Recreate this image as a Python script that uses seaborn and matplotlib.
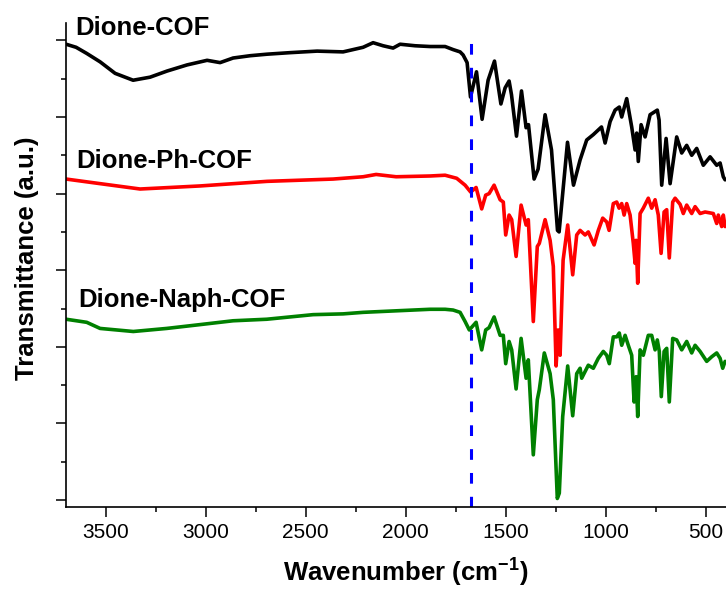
import numpy as np
import pandas as pd
import matplotlib
matplotlib.use("Agg")
import matplotlib.pyplot as plt
import seaborn as sns

# ---------------- data ----------------
series_names = ["Dione-COF", "Dione-Ph-COF", "Dione-Naph-COF"]
series_colors = ["#000000", "#FF0000", "#008000"]

cof_wn = [3698, 3648, 3595, 3528, 3453, 3363, 3278, 3193, 3093, 2993, 2928, 2863, 2778, 2693,
          2578, 2443, 2313, 2213, 2163, 2113, 2063, 2028, 1953, 1878, 1803, 1763, 1728, 1713,
          1693, 1676, 1646, 1618, 1588, 1556, 1524, 1503, 1483, 1471, 1446, 1421, 1398, 1386,
          1358, 1338, 1303, 1271, 1241, 1233, 1191, 1161, 1128, 1095, 1062, 1021, 1003, 978,
          953, 932, 920, 895, 870, 853, 845, 837, 823, 803, 778, 742, 733, 720, 698, 678, 645,
          620, 595, 570, 545, 512, 478, 445, 428, 412, 403]
cof_t = [5.95, 5.91, 5.83, 5.72, 5.57, 5.48, 5.52, 5.60, 5.68, 5.74, 5.71, 5.77, 5.80, 5.82,
         5.84, 5.86, 5.85, 5.91, 5.97, 5.93, 5.90, 5.95, 5.93, 5.92, 5.92, 5.88, 5.85, 5.81,
         5.71, 5.26, 5.59, 4.97, 5.48, 5.73, 5.17, 5.38, 5.47, 5.29, 4.75, 5.34, 4.86, 4.90,
         4.19, 4.32, 5.03, 4.57, 3.52, 3.50, 4.67, 4.11, 4.44, 4.70, 4.77, 4.87, 4.66, 4.94,
         5.09, 5.13, 5.00, 5.24, 4.87, 4.57, 4.79, 4.42, 4.90, 4.74, 5.03, 5.09, 4.96, 4.11,
         4.72, 4.13, 4.74, 4.53, 4.63, 4.50, 4.59, 4.37, 4.48, 4.37, 4.40, 4.22, 4.18]

ph_wn = [3698, 3528, 3328, 3028, 2693, 2363, 2213, 2148, 2048, 1878, 1803, 1745, 1703, 1675,
         1648, 1620, 1600, 1583, 1558, 1528, 1512, 1500, 1483, 1470, 1448, 1423, 1398, 1387,
         1362, 1342, 1332, 1303, 1278, 1262, 1248, 1238, 1228, 1213, 1190, 1165, 1145, 1128,
         1103, 1087, 1058, 1037, 1015, 995, 983, 962, 945, 933, 920, 908, 895, 878, 862, 853,
         848, 840, 828, 812, 787, 770, 753, 737, 723, 708, 695, 682, 665, 653, 628, 612, 595,
         570, 553, 528, 503, 462, 445, 437, 420, 412, 403]
ph_t = [4.19, 4.13, 4.06, 4.10, 4.16, 4.19, 4.22, 4.25, 4.22, 4.23, 4.24, 4.20, 4.11, 4.02,
        4.08, 3.80, 3.98, 4.00, 4.11, 3.92, 3.89, 3.46, 3.72, 3.66, 3.18, 3.85, 3.59, 3.66,
        2.33, 3.31, 3.35, 3.66, 3.39, 3.05, 1.75, 2.22, 1.89, 3.13, 3.59, 2.94, 3.46, 3.52,
        3.46, 3.50, 3.33, 3.52, 3.68, 3.63, 3.52, 3.87, 3.89, 3.81, 3.87, 3.72, 3.87, 3.72,
        3.35, 3.09, 3.39, 2.83, 3.74, 3.81, 3.94, 3.81, 3.92, 3.72, 3.22, 3.76, 3.79, 3.16,
        3.89, 3.94, 3.86, 3.74, 3.85, 3.74, 3.83, 3.74, 3.76, 3.74, 3.61, 3.72, 3.57, 3.72, 3.57]

naph_wn = [3698, 3595, 3528, 3362, 3195, 3028, 2863, 2695, 2463, 2313, 2213, 2047, 1878, 1803,
           1763, 1728, 1703, 1682, 1648, 1620, 1600, 1583, 1558, 1528, 1512, 1500, 1483, 1470,
           1448, 1423, 1398, 1387, 1362, 1342, 1332, 1307, 1278, 1262, 1242, 1232, 1215, 1190,
           1165, 1145, 1128, 1120, 1087, 1062, 1037, 1012, 995, 982, 962, 945, 932, 920, 903,
           887, 870, 858, 848, 840, 828, 812, 787, 770, 753, 742, 732, 722, 708, 695, 682, 665,
           645, 620, 595, 570, 553, 528, 495, 470, 445, 428, 415, 403]
naph_t = [2.36, 2.32, 2.24, 2.20, 2.24, 2.29, 2.34, 2.36, 2.42, 2.43, 2.45, 2.47, 2.49, 2.49,
          2.48, 2.45, 2.33, 2.22, 2.32, 1.96, 2.22, 2.25, 2.39, 2.15, 2.15, 1.78, 2.07, 1.96,
          1.45, 2.11, 1.59, 1.83, 0.59, 1.31, 1.44, 1.92, 1.65, 1.31, 0.02, 0.09, 1.09, 1.75,
          1.10, 1.65, 1.72, 1.59, 1.76, 1.72, 1.85, 1.94, 1.89, 1.78, 2.13, 2.13, 2.18, 2.02,
          2.15, 2.02, 1.89, 1.28, 1.61, 1.09, 1.96, 1.89, 2.15, 2.15, 1.96, 2.09, 1.94, 1.35,
          1.94, 1.98, 1.28, 2.11, 2.09, 1.96, 2.07, 1.92, 2.02, 1.94, 1.81, 1.87, 1.92, 1.85,
          1.72, 1.81]

ref_wavenumber = 1675
x_ticks = [3500, 3000, 2500, 2000, 1500, 1000, 500]
x_tick_labels = ["3500", "3000", "2500", "2000", "1500", "1000", "500"]
x_minor_ticks = [3250, 2750, 2250, 1750, 1250, 750]

# ---------------- build table ----------------
frames = []
for name, wn, t in zip(series_names, [cof_wn, ph_wn, naph_wn], [cof_t, ph_t, naph_t]):
    frames.append(pd.DataFrame({"wn": wn, "t": t, "sample": name}))
df = pd.concat(frames, ignore_index=True)

# ---------------- style ----------------
sns.set_theme(style="ticks")
plt.rcParams["font.family"] = ["Liberation Sans", "DejaVu Sans"]
plt.rcParams["mathtext.fontset"] = "custom"
plt.rcParams["mathtext.rm"] = "Liberation Sans:bold"
plt.rcParams["mathtext.bf"] = "Liberation Sans:bold"
plt.rcParams["mathtext.default"] = "bf"

W, H = 726, 592
fig = plt.figure(figsize=(W / 100, H / 100), dpi=100)
ax = fig.add_axes([65.7 / W, 1 - 507 / H, 660 / W, 484.3 / H])

sns.lineplot(data=df, x="wn", y="t", hue="sample", palette=dict(zip(series_names, series_colors)),
             hue_order=series_names, estimator=None, sort=False, linewidth=2.6,
             legend=False, ax=ax)
for line in ax.lines:
    line.set_solid_joinstyle("round")

ax.axvline(ref_wavenumber, ymin=0, ymax=0.961, color="#0000FF", linewidth=2.2,
           linestyle=(0, (3.5, 4.3)))

ax.set_xticks(x_ticks)
ax.set_xticklabels(x_tick_labels)
ax.set_xticks(x_minor_ticks, minor=True)
ax.set_yticks(np.arange(0, 6.01, 1))
ax.set_yticks(np.arange(0.5, 6.01, 1), minor=True)
ax.set_yticklabels([])

ax.set_xlim(3700, 400)
ax.set_ylim(-0.091, 6.231)

ax.tick_params(axis="both", which="major", direction="out", length=7.2, width=1.1,
               color="black", labelsize=15, labelcolor="black", pad=4)
ax.tick_params(axis="both", which="minor", direction="out", length=3.6, width=1.1, color="black")

for side in ["top", "right"]:
    ax.spines[side].set_visible(False)
for side in ["left", "bottom"]:
    ax.spines[side].set_linewidth(1.2)
    ax.spines[side].set_color("black")

ax.set_xlabel(r"Wavenumber (cm$^{-1}$)", fontsize=18.5, fontweight="bold", color="black")
ax.set_ylabel("Transmittance (a.u.)", fontsize=18.5, fontweight="bold", color="black")
ax.xaxis.set_label_coords(0.5155, -0.103)
ax.yaxis.set_label_coords(-0.04, 0.514)

label_pos = [(0.0140, 0.9746), (0.0165, 0.6994), (0.0185, 0.4136)]
for name, (lx, ly) in zip(series_names, label_pos):
    ax.text(lx, ly, name, transform=ax.transAxes, fontsize=18.5, fontweight="bold",
            color="black", ha="left", va="baseline")

ax.set_facecolor("white")
fig.patch.set_facecolor("white")
fig.savefig("out.png", dpi=100)
